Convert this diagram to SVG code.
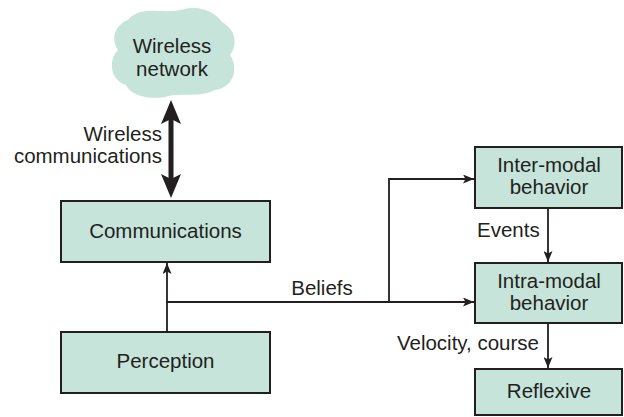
<svg xmlns="http://www.w3.org/2000/svg" width="624" height="417" viewBox="0 0 624 417">
<style>
.box{fill:#c6e4da;stroke:#231f20;stroke-width:2}
.t{font-family:"Liberation Sans",Arial,sans-serif;font-size:20.5px;fill:#231f20}
.m{text-anchor:middle}
.e{text-anchor:end}
.ln{fill:none;stroke:#231f20;stroke-width:1.8}
</style>
<defs>
<marker id="ah" viewBox="0 0 11 9" refX="11" refY="4.5" markerWidth="11" markerHeight="9" markerUnits="userSpaceOnUse" orient="auto">
<path d="M0,0 L11,4.5 L0,9 L2.5,4.5 Z" fill="#231f20"/>
</marker>
</defs>
<rect width="624" height="417" fill="#fff"/>
<g id="cloud">
<path d="M128,20 C140,5 165,14 180,10 C200,4 215,12 222,22 C236,30 238,45 230,55 C240,70 232,88 215,90 C200,98 180,92 165,97 C148,100 130,95 126,85 C110,80 108,60 118,50 C110,38 116,24 128,20 Z" fill="#c6e4da"/>
<text class="t m" x="172" y="53">Wireless</text>
<text class="t m" x="172" y="76">network</text>
</g>
<g id="communications">
<rect class="box" x="61" y="201" width="209" height="61"/>
<text class="t m" x="165.5" y="238">Communications</text>
</g>
<g id="perception">
<rect class="box" x="61" y="332" width="209" height="61"/>
<text class="t m" x="165.5" y="368">Perception</text>
</g>
<g id="inter-modal">
<rect class="box" x="475" y="147" width="147" height="61"/>
<text class="t m" x="549" y="172">Inter-modal</text>
<text class="t m" x="549" y="194">behavior</text>
</g>
<g id="intra-modal">
<rect class="box" x="475" y="263" width="147" height="60"/>
<text class="t m" x="549" y="288">Intra-modal</text>
<text class="t m" x="549" y="310">behavior</text>
</g>
<g id="reflexive">
<rect class="box" x="475" y="369" width="147" height="46"/>
<text class="t m" x="549" y="398">Reflexive</text>
</g>
<g id="connectors">
<line x1="171" y1="118" x2="171" y2="180" stroke="#231f20" stroke-width="5"/>
<path d="M171,100 L181,124 L171,119 L161,124 Z" fill="#231f20"/>
<path d="M171,198 L181,174 L171,179 L161,174 Z" fill="#231f20"/>
<text class="t e" x="162" y="141">Wireless</text>
<text class="t e" x="162" y="163">communications</text>
<line class="ln" x1="167" y1="332" x2="167" y2="263" marker-end="url(#ah)"/>
<line class="ln" x1="166" y1="302" x2="474" y2="302" marker-end="url(#ah)"/>
<polyline class="ln" points="389,302 389,179 474,179" marker-end="url(#ah)"/>
<text class="t m" x="322" y="295">Beliefs</text>
<line class="ln" x1="548" y1="208" x2="548" y2="262" marker-end="url(#ah)"/>
<text class="t" x="477" y="237">Events</text>
<line class="ln" x1="548" y1="323" x2="548" y2="368" marker-end="url(#ah)"/>
<text class="t e" x="539" y="350">Velocity, course</text>
</g>
</svg>
